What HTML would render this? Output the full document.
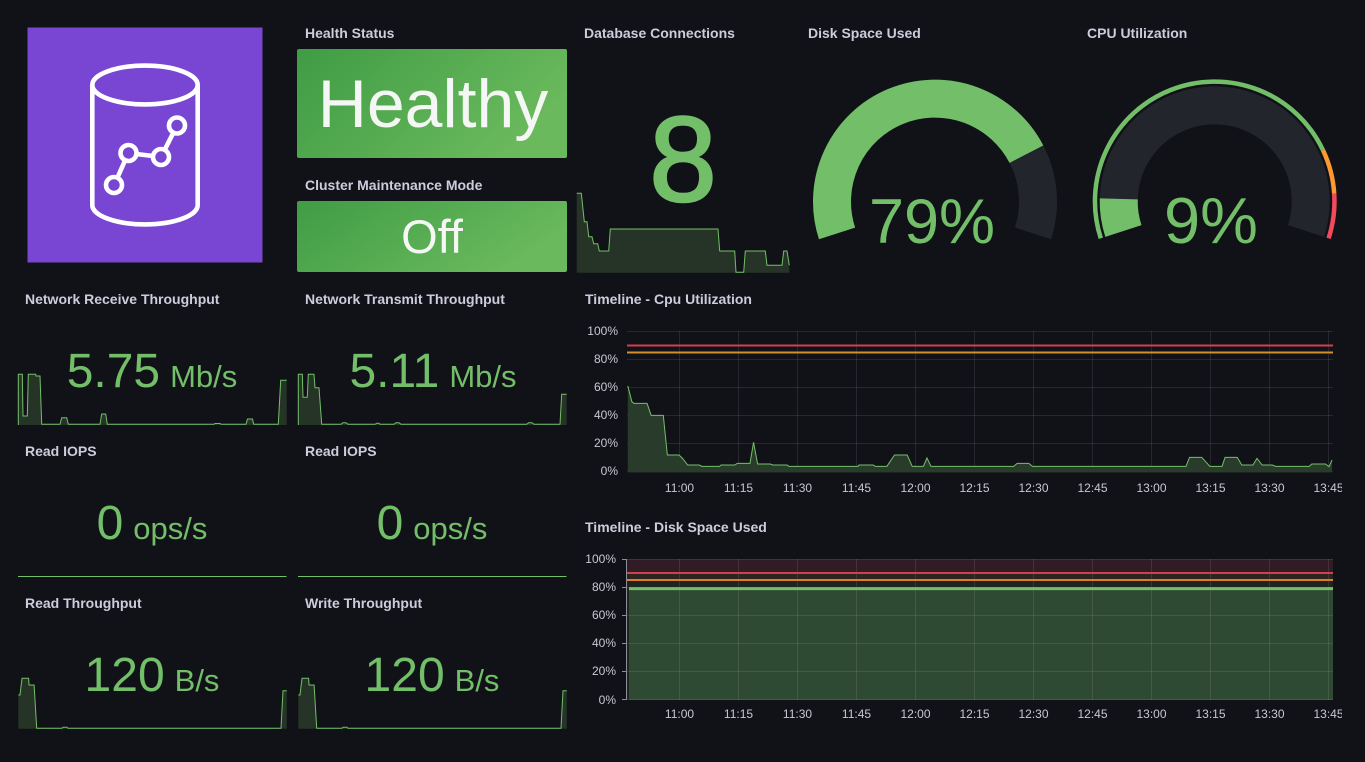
<!DOCTYPE html>
<html><head><meta charset="utf-8"><style>
html,body{margin:0;padding:0;background:#111217;}
body{width:1365px;height:762px;overflow:hidden;position:relative;font-family:"Liberation Sans",sans-serif;}
svg{position:absolute;left:0;top:0;}
.t{font-family:"Liberation Sans",sans-serif;font-size:14px;font-weight:bold;fill:#ccccdc;}
.ax{font-family:"Liberation Sans",sans-serif;font-size:12px;fill:#c8c8d4;}
.v{font-family:"Liberation Sans",sans-serif;fill:#73bf69;}
</style></head><body>
<svg width="1365" height="762" viewBox="0 0 1365 762" xmlns="http://www.w3.org/2000/svg">
<defs>
<linearGradient id="gg" x1="0" y1="0" x2="1" y2="0.4">
<stop offset="0" stop-color="#3f9c45"/><stop offset="1" stop-color="#6ab95c"/>
</linearGradient>
<clipPath id="xclip"><rect x="0" y="0" width="1342" height="762"/></clipPath>
</defs>

<!-- Logo -->
<rect x="27.5" y="27.5" width="235" height="235" fill="#7846d2"/>
<g fill="none" stroke="#ffffff" stroke-width="4.6">
<ellipse cx="145" cy="85" rx="52.7" ry="19.4"/>
<path d="M92.3,85 L92.3,205 A52.7,19.4 0 0 0 197.7,205 L197.7,85"/>
<circle cx="114" cy="185" r="8"/>
<circle cx="128.5" cy="153" r="8"/>
<circle cx="161" cy="157" r="8"/>
<circle cx="177" cy="125.5" r="8"/>
<line x1="117.5" y1="177.6" x2="125" y2="160.5"/>
<line x1="136.4" y1="154" x2="153" y2="156"/>
<line x1="164.7" y1="149.8" x2="173.3" y2="132.8"/>
</g>

<!-- Titles -->
<text class="t" x="305" y="38">Health Status</text>
<text class="t" x="305" y="190">Cluster Maintenance Mode</text>
<text class="t" x="584" y="38">Database Connections</text>
<text class="t" x="808" y="38">Disk Space Used</text>
<text class="t" x="1087" y="38">CPU Utilization</text>
<text class="t" x="25" y="304">Network Receive Throughput</text>
<text class="t" x="305" y="304">Network Transmit Throughput</text>
<text class="t" x="585" y="304">Timeline - Cpu Utilization</text>
<text class="t" x="25" y="456">Read IOPS</text>
<text class="t" x="305" y="456">Read IOPS</text>
<text class="t" x="585" y="532">Timeline - Disk Space Used</text>
<text class="t" x="25" y="608">Read Throughput</text>
<text class="t" x="305" y="608">Write Throughput</text>

<!-- Health / Off boxes -->
<rect x="297" y="49" width="270" height="109" rx="2" fill="url(#gg)"/>
<text x="433" y="127" text-anchor="middle" font-family="Liberation Sans, sans-serif" font-size="68" fill="#f4f7f3">Healthy</text>
<rect x="297" y="201" width="270" height="71" rx="2" fill="url(#gg)"/>
<text x="432" y="253" text-anchor="middle" font-family="Liberation Sans, sans-serif" font-size="47" fill="#f4f7f3">Off</text>

<!-- DB connections -->
<path d="M576.7,272.7 L576.7,193.3 L581.3,193.3 L584.3,221.7 L587,221.7 L588.7,236.7 L592,236.7 L593.7,243.7 L597.7,243.7 L599.3,251 L608.7,251 L610.3,229 L718,229 L719.7,251 L734.7,251 L736,272.3 L743.7,272.3 L745.3,251 L765.3,251 L767,265.3 L782,265.3 L783.7,251 L787,251 L789.3,265.3 L789.3,272.7 Z" fill="#253426"/>
<path d="M576.7,193.3 L581.3,193.3 L584.3,221.7 L587,221.7 L588.7,236.7 L592,236.7 L593.7,243.7 L597.7,243.7 L599.3,251 L608.7,251 L610.3,229 L718,229 L719.7,251 L734.7,251 L736,272.3 L743.7,272.3 L745.3,251 L765.3,251 L767,265.3 L782,265.3 L783.7,251 L787,251 L789.3,265.3" fill="none" stroke="#73bf69" stroke-width="1"/>
<text class="v" x="683" y="201" text-anchor="middle" font-size="121" stroke="#73bf69" stroke-width="2.5">8</text>

<!-- Disk gauge -->
<path d="M837.04,233.43 A103,103 0 0 1 1026.47,154.26" fill="none" stroke="#73bf69" stroke-width="38"/>
<path d="M1026.47,154.26 A103,103 0 0 1 1032.96,233.43" fill="none" stroke="#22252b" stroke-width="38"/>
<text class="v" x="932" y="243" text-anchor="middle" font-size="63">79%</text>

<!-- CPU gauge -->
<path d="M1100.81,238.30 A119.75,119.75 0 0 1 1323.05,150.31" fill="none" stroke="#73bf69" stroke-width="4.5"/>
<path d="M1323.05,150.31 A119.75,119.75 0 0 1 1334.21,193.78" fill="none" stroke="#ff9830" stroke-width="4.5"/>
<path d="M1334.21,193.78 A119.75,119.75 0 0 1 1328.59,238.30" fill="none" stroke="#f2495c" stroke-width="4.5"/>
<path d="M1123.39,230.96 A96,96 0 1 1 1306.01,230.96" fill="none" stroke="#22252b" stroke-width="38"/>
<path d="M1123.39,230.96 A96,96 0 0 1 1118.73,198.89" fill="none" stroke="#73bf69" stroke-width="38"/>
<text class="v" x="1211" y="243" text-anchor="middle" font-size="65">9%</text>

<!-- Network receive -->
<path d="M18.3,425 L18.3,374.3 L22.3,374.3 L23,416 L27.3,416 L28.3,374.3 L35.7,374.3 L36,376 L40,376 L41.7,424.3 L60,424.3 L61.7,417.7 L66.7,417.7 L68.3,424.3 L100,424.3 L101.7,414 L105.7,414 L107.3,424.3 L214,424.3 L215,423.5 L220,423.5 L221,424.3 L246,424.3 L247.5,419 L252.5,419 L253.7,424.3 L278.3,424.3 L280.7,380.3 L286.7,380.3 L286.7,425 Z" fill="#253426" stroke="none"/>
<path d="M18.3,425 L18.3,374.3 L22.3,374.3 L23,416 L27.3,416 L28.3,374.3 L35.7,374.3 L36,376 L40,376 L41.7,424.3 L60,424.3 L61.7,417.7 L66.7,417.7 L68.3,424.3 L100,424.3 L101.7,414 L105.7,414 L107.3,424.3 L214,424.3 L215,423.5 L220,423.5 L221,424.3 L246,424.3 L247.5,419 L252.5,419 L253.7,424.3 L278.3,424.3 L280.7,380.3 L286.7,380.3" fill="none" stroke="#73bf69" stroke-width="1"/>
<text class="v" x="152" y="387" text-anchor="middle" font-size="48">5.75<tspan font-size="31" dx="10">Mb/s</tspan></text>

<!-- Network transmit -->
<path d="M298.3,425 L298.3,374.3 L302.3,374.3 L303,397.3 L307.3,397.3 L308.3,374.3 L314,374.3 L315,387.7 L319,387.7 L321.7,424.3 L341,424.3 L343,422.7 L346,422.7 L348,424.3 L375,424.3 L377,423.3 L379,423.3 L380,424.3 L394,424.3 L396,422.7 L399,422.7 L401,424.3 L526.7,424.3 L528.7,422.7 L532,422.7 L534,424.3 L560,424.3 L561.7,394.3 L566.7,394.3 L566.7,425 Z" fill="#253426"/>
<path d="M298.3,425 L298.3,374.3 L302.3,374.3 L303,397.3 L307.3,397.3 L308.3,374.3 L314,374.3 L315,387.7 L319,387.7 L321.7,424.3 L341,424.3 L343,422.7 L346,422.7 L348,424.3 L375,424.3 L377,423.3 L379,423.3 L380,424.3 L394,424.3 L396,422.7 L399,422.7 L401,424.3 L526.7,424.3 L528.7,422.7 L532,422.7 L534,424.3 L560,424.3 L561.7,394.3 L566.7,394.3" fill="none" stroke="#73bf69" stroke-width="1"/>
<text class="v" x="433" y="387" text-anchor="middle" font-size="48">5.11<tspan font-size="31" dx="10">Mb/s</tspan></text>

<!-- Read IOPS -->
<line x1="18" y1="576.5" x2="286.5" y2="576.5" stroke="#73bf69" stroke-width="1"/>
<line x1="298" y1="576.5" x2="566.5" y2="576.5" stroke="#73bf69" stroke-width="1"/>
<text class="v" x="152" y="539" text-anchor="middle" font-size="48">0<tspan font-size="31" dx="10">ops/s</tspan></text>
<text class="v" x="432" y="539" text-anchor="middle" font-size="48">0<tspan font-size="31" dx="10">ops/s</tspan></text>

<!-- Read / Write throughput -->
<g>
<path d="M18.3,728.8 L18.3,695 L20,695 L22,678.3 L28.6,678.3 L29,685 L34.1,685 L36.7,728.3 L62,728.3 L63,727.3 L67,727.3 L68,728.3 L281,728.3 L283,690.7 L286.8,690.7 L286.8,728.8 Z" fill="#253426"/>
<path d="M18.3,695 L20,695 L22,678.3 L28.6,678.3 L29,685 L34.1,685 L36.7,728.3 L62,728.3 L63,727.3 L67,727.3 L68,728.3 L281,728.3 L283,690.7 L286.8,690.7" fill="none" stroke="#73bf69" stroke-width="1"/>
</g>
<g transform="translate(280,0)">
<path d="M18.3,728.8 L18.3,695 L20,695 L22,678.3 L28.6,678.3 L29,685 L34.1,685 L36.7,728.3 L62,728.3 L63,727.3 L67,727.3 L68,728.3 L281,728.3 L283,690.7 L286.8,690.7 L286.8,728.8 Z" fill="#253426"/>
<path d="M18.3,695 L20,695 L22,678.3 L28.6,678.3 L29,685 L34.1,685 L36.7,728.3 L62,728.3 L63,727.3 L67,727.3 L68,728.3 L281,728.3 L283,690.7 L286.8,690.7" fill="none" stroke="#73bf69" stroke-width="1"/>
</g>
<text class="v" x="152" y="691" text-anchor="middle" font-size="48">120<tspan font-size="31" dx="10">B/s</tspan></text>
<text class="v" x="432" y="691" text-anchor="middle" font-size="48">120<tspan font-size="31" dx="10">B/s</tspan></text>

<!-- CPU timeline -->
<g stroke="#ccccdc" stroke-opacity="0.12" stroke-width="1">
<line x1="627" y1="331.5" x2="1333" y2="331.5"/>
<line x1="627" y1="359.5" x2="1333" y2="359.5"/>
<line x1="627" y1="387.5" x2="1333" y2="387.5"/>
<line x1="627" y1="415.5" x2="1333" y2="415.5"/>
<line x1="627" y1="443.5" x2="1333" y2="443.5"/>
<line x1="627" y1="471.5" x2="1333" y2="471.5"/>
<line x1="679.5" y1="331" x2="679.5" y2="472"/>
<line x1="738.5" y1="331" x2="738.5" y2="472"/>
<line x1="797.5" y1="331" x2="797.5" y2="472"/>
<line x1="856.5" y1="331" x2="856.5" y2="472"/>
<line x1="915.5" y1="331" x2="915.5" y2="472"/>
<line x1="974.5" y1="331" x2="974.5" y2="472"/>
<line x1="1033.5" y1="331" x2="1033.5" y2="472"/>
<line x1="1092.5" y1="331" x2="1092.5" y2="472"/>
<line x1="1151.5" y1="331" x2="1151.5" y2="472"/>
<line x1="1210.5" y1="331" x2="1210.5" y2="472"/>
<line x1="1269.5" y1="331" x2="1269.5" y2="472"/>
<line x1="1328.5" y1="331" x2="1328.5" y2="472"/>
</g>
<g transform="translate(570,290) scale(0.50702,0.333333)">
<path d="M114,288 L122,335 L126,340 L152,340 L160,376 L184,376 L192,495 L215,495 L222,505 L232,525 L255,525 L260,529 L295,529 L298,525 L325,525 L330,520 L355,520 L362,457 L370,522 L395,522 L400,525 L428,525 L432,529 L568,529 L570,525 L598,525 L602,529 L625,529 L640,495 L665,495 L675,529 L697,529 L704,504 L712,529 L875,529 L882,520 L905,520 L912,529 L1215,529 L1222,502 L1246,502 L1262,529 L1286,529 L1292,502 L1316,502 L1325,525 L1347,525 L1355,505 L1365,525 L1385,525 L1392,529 L1458,529 L1463,522 L1490,522 L1497,530 L1503,510 L1503,547 L114,547 Z" fill="#293b2a"/>
<path d="M114,288 L122,335 L126,340 L152,340 L160,376 L184,376 L192,495 L215,495 L222,505 L232,525 L255,525 L260,529 L295,529 L298,525 L325,525 L330,520 L355,520 L362,457 L370,522 L395,522 L400,525 L428,525 L432,529 L568,529 L570,525 L598,525 L602,529 L625,529 L640,495 L665,495 L675,529 L697,529 L704,504 L712,529 L875,529 L882,520 L905,520 L912,529 L1215,529 L1222,502 L1246,502 L1262,529 L1286,529 L1292,502 L1316,502 L1325,525 L1347,525 L1355,505 L1365,525 L1385,525 L1392,529 L1458,529 L1463,522 L1490,522 L1497,530 L1503,510" fill="none" stroke="#73bf69" stroke-width="1" vector-effect="non-scaling-stroke"/>
</g>
<line x1="627" y1="345.5" x2="1333" y2="345.5" stroke="#d0404f" stroke-width="2"/>
<line x1="627" y1="352.5" x2="1333" y2="352.5" stroke="#d1902c" stroke-width="2"/>
<g class="ax" text-anchor="end" font-size="12.5">
<text x="618" y="335">100%</text>
<text x="618" y="363">80%</text>
<text x="618" y="391">60%</text>
<text x="618" y="419">40%</text>
<text x="618" y="447">20%</text>
<text x="618" y="475">0%</text>
</g>
<g class="ax" text-anchor="middle" clip-path="url(#xclip)">
<text x="679.5" y="492">11:00</text>
<text x="738.5" y="492">11:15</text>
<text x="797.5" y="492">11:30</text>
<text x="856.5" y="492">11:45</text>
<text x="915.5" y="492">12:00</text>
<text x="974.5" y="492">12:15</text>
<text x="1033.5" y="492">12:30</text>
<text x="1092.5" y="492">12:45</text>
<text x="1151.5" y="492">13:00</text>
<text x="1210.5" y="492">13:15</text>
<text x="1269.5" y="492">13:30</text>
<text x="1328.5" y="492">13:45</text>
</g>

<!-- Disk timeline -->
<rect x="627" y="559" width="706" height="14" fill="#311c25"/>
<rect x="627" y="573" width="706" height="7" fill="#2d2420"/>
<rect x="627" y="580" width="706" height="120" fill="#1c251f"/>
<rect x="629" y="588.6" width="704" height="111.4" fill="#2f4a32"/>
<g stroke="#ccccdc" stroke-opacity="0.12" stroke-width="1">
<line x1="627" y1="559.5" x2="1333" y2="559.5"/>
<line x1="627" y1="587.5" x2="1333" y2="587.5"/>
<line x1="627" y1="615.5" x2="1333" y2="615.5"/>
<line x1="627" y1="643.5" x2="1333" y2="643.5"/>
<line x1="627" y1="671.5" x2="1333" y2="671.5"/>
<line x1="627" y1="699.5" x2="1333" y2="699.5"/>
<line x1="679.5" y1="559" x2="679.5" y2="700"/>
<line x1="738.5" y1="559" x2="738.5" y2="700"/>
<line x1="797.5" y1="559" x2="797.5" y2="700"/>
<line x1="856.5" y1="559" x2="856.5" y2="700"/>
<line x1="915.5" y1="559" x2="915.5" y2="700"/>
<line x1="974.5" y1="559" x2="974.5" y2="700"/>
<line x1="1033.5" y1="559" x2="1033.5" y2="700"/>
<line x1="1092.5" y1="559" x2="1092.5" y2="700"/>
<line x1="1151.5" y1="559" x2="1151.5" y2="700"/>
<line x1="1210.5" y1="559" x2="1210.5" y2="700"/>
<line x1="1269.5" y1="559" x2="1269.5" y2="700"/>
<line x1="1328.5" y1="559" x2="1328.5" y2="700"/>
</g>
<line x1="626.5" y1="559" x2="626.5" y2="700" stroke="#8e8e9a" stroke-width="1"/>
<g stroke="#8e8e9a" stroke-width="1">
<line x1="622" y1="559.5" x2="626" y2="559.5"/>
<line x1="622" y1="587.5" x2="626" y2="587.5"/>
<line x1="622" y1="615.5" x2="626" y2="615.5"/>
<line x1="622" y1="643.5" x2="626" y2="643.5"/>
<line x1="622" y1="671.5" x2="626" y2="671.5"/>
<line x1="622" y1="699.5" x2="626" y2="699.5"/>
</g>
<line x1="627" y1="573" x2="1333" y2="573" stroke="#d0404f" stroke-width="2"/>
<line x1="627" y1="580" x2="1333" y2="580" stroke="#e07c2a" stroke-width="2"/>
<line x1="629" y1="588.6" x2="1333" y2="588.6" stroke="#73bf69" stroke-width="3"/>
<g class="ax" text-anchor="end">
<text x="616" y="563">100%</text>
<text x="616" y="591">80%</text>
<text x="616" y="619">60%</text>
<text x="616" y="647">40%</text>
<text x="616" y="675">20%</text>
<text x="616" y="704">0%</text>
</g>
<g class="ax" text-anchor="middle" clip-path="url(#xclip)">
<text x="679.5" y="718">11:00</text>
<text x="738.5" y="718">11:15</text>
<text x="797.5" y="718">11:30</text>
<text x="856.5" y="718">11:45</text>
<text x="915.5" y="718">12:00</text>
<text x="974.5" y="718">12:15</text>
<text x="1033.5" y="718">12:30</text>
<text x="1092.5" y="718">12:45</text>
<text x="1151.5" y="718">13:00</text>
<text x="1210.5" y="718">13:15</text>
<text x="1269.5" y="718">13:30</text>
<text x="1328.5" y="718">13:45</text>
</g>
</svg>
</body></html>
